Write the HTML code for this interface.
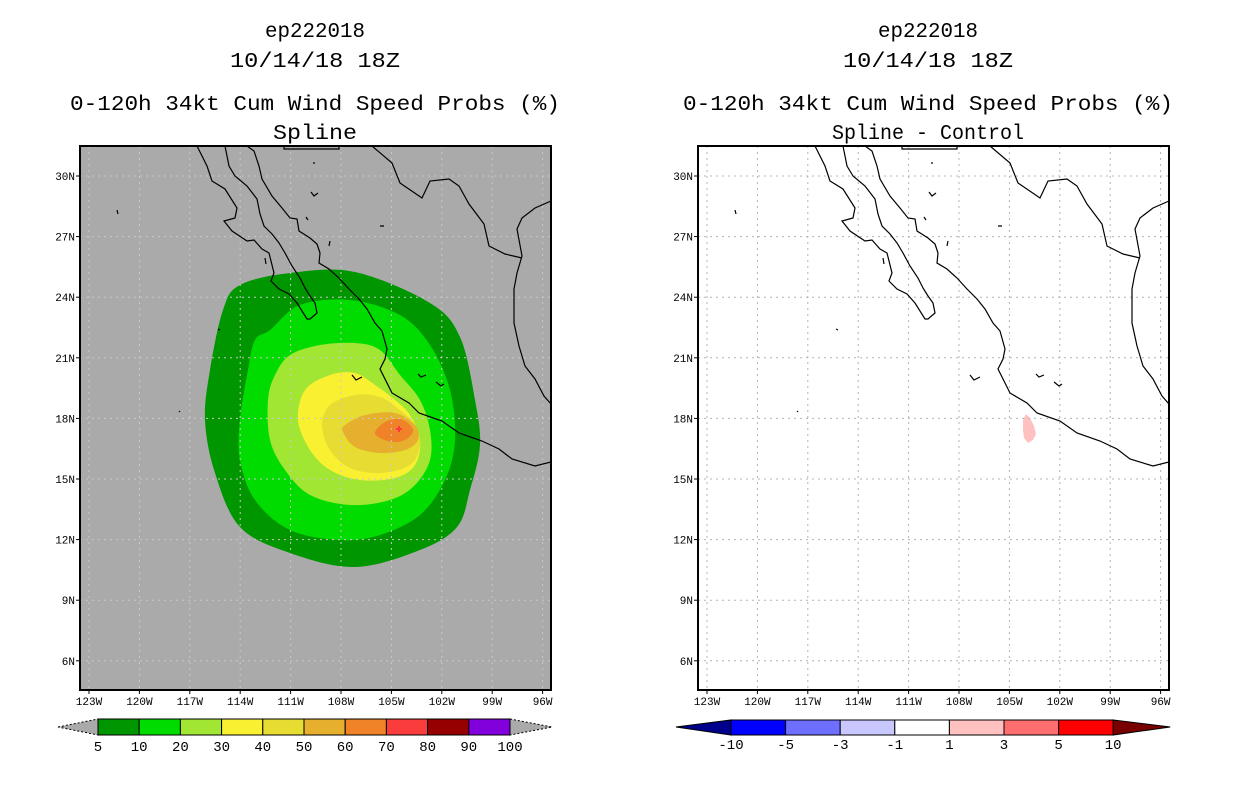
<!DOCTYPE html>
<html><head><meta charset="utf-8"><style>
body{margin:0;background:#fff;}
svg{display:block;font-family:"Liberation Mono","DejaVu Sans Mono",monospace;}
</style></head><body>
<svg id="s" width="1236" height="800" viewBox="0 0 1236 800" xmlns="http://www.w3.org/2000/svg">
<defs>
<clipPath id="clipL"><rect x="80" y="146" width="471" height="544"/></clipPath>
<clipPath id="clipR"><rect x="698" y="146" width="471" height="544"/></clipPath>
</defs>
</svg>
<script>
const lonTicks=[-123,-120,-117,-114,-111,-108,-105,-102,-99,-96];
const lonLabels=["123W","120W","117W","114W","111W","108W","105W","102W","99W","96W"];
const latTicks=[30,27,24,21,18,15,12,9,6];
const latLabels=["30N","27N","24N","21N","18N","15N","12N","9N","6N"];
const probLevels=["5","10","20","30","40","50","60","70","80","90","100"];
const probColors=["#009600","#00dc00","#a0e632","#faf032","#e6dc32","#e6af2d","#f08228","#fa3c3c","#960000","#8200dc"];
const diffLevels=["-10","-5","-3","-1","1","3","5","10"];
const diffColors=["#00008c","#0000ff","#6e6eff","#c8c8ff","#ffffff","#ffc0c0","#ff6e6e","#ff0000","#780000"];

const NS="http://www.w3.org/2000/svg";
const svg=document.getElementById('s');
function mk(tag,attrs,parent){const e=document.createElementNS(NS,tag);for(const k in attrs)e.setAttribute(k,attrs[k]);(parent||svg).appendChild(e);return e;}
const panels=[{x0:80,name:'left'},{x0:698,name:'right'}];
function lonX(p,lon){return p.x0+9+(lon+123)*16.8;}
function latY(lat){return 176+(30-lat)*20.2;}
function smooth(str){
  const p=str.trim().split(/\s+/).map(s=>s.split(',').map(Number));
  const n=p.length;let d=`M${p[0][0]},${p[0][1]}`;
  for(let i=0;i<n;i++){
    const p0=p[(i-1+n)%n],p1=p[i],p2=p[(i+1)%n],p3=p[(i+2)%n];
    const c1=[p1[0]+(p2[0]-p0[0])/6,p1[1]+(p2[1]-p0[1])/6];
    const c2=[p2[0]-(p3[0]-p1[0])/6,p2[1]-(p3[1]-p1[1])/6];
    d+=` C${c1[0].toFixed(1)},${c1[1].toFixed(1)} ${c2[0].toFixed(1)},${c2[1].toFixed(1)} ${p2[0]},${p2[1]}`;
  }
  return d+'Z';
}

const coast=[
"M117,0 L127,20 L132,35 L145,43 L157,62 L155,72 L144,75 L152,85 L167,95 L174,94 L182,103 L189,107 L194,127 L191,135 L199,143 L209,148 L217,157 L227,173 L230,173 L237,167 L235,157 L230,150 L225,142 L220,132 L212,120 L205,107 L199,97 L192,88 L184,80 L180,68 L177,53 L167,40 L155,30 L149,20 L145,0",
"M167,0 L174,5 L179,20 L182,33 L192,50 L202,62 L210,72 L217,73 L219,85 L230,92 L237,98 L240,107 L239,117 L249,123 L259,132 L269,143 L279,153 L287,163 L295,177 L302,185 L307,203 L305,213 L300,223 L305,233 L312,247 L329,257 L339,267 L362,275 L379,287 L402,295 L419,303 L432,313 L455,320 L471,316",
"M471,55 L455,62 L442,72 L437,83 L442,110 L437,127 L434,143 L434,177 L439,200 L445,220 L455,233 L464,250 L471,258",
"M292,0 L312,17 L320,37 L342,52 L350,35 L369,33 L379,40 L389,58 L404,78 L409,100 L425,108 L442,112",
"M204,0 L204,3 L259,3 L259,0",
"M272,229 L276,234 L282,231 M338,228 L341,231 L346,229 M356,236 L361,240 L364,238 M138,183 L140,184 M99,265 L100,266 M234,16 L234,18 M37,64 L38,68 M231,46 L234,50 L238,47 M226,71 L228,74 M300,80 L304,80 M250,95 L249,100 M185,112 L186,118"
];

panels.forEach(p=>{
  const L=p.name==='left';
  const g=mk('g',{});
  
  
  mk('rect',{x:p.x0,y:146,width:471,height:544,fill:L?'#aaaaaa':'#ffffff'},g);
  const inner=mk('g',{'clip-path':'url(#clip'+(L?'L':'R')+')'},g);
  if(L){
    const contours=[
     "240,285 290,273 355,272 430,303 460,337 475,400 480,445 470,490 457,527 420,550 355,567 290,553 240,527 215,473 205,420 210,370 223,310",
     "255,340 270,330 300,305 350,300 400,315 430,345 450,390 455,440 445,480 420,515 380,535 340,540 290,530 255,500 240,460 240,420 248,370",
     "275,375 290,355 320,345 355,343 380,350 400,375 420,400 430,430 430,460 415,485 390,500 350,505 310,495 285,470 270,440 268,400",
     "298,420 305,390 330,375 355,373 375,385 395,400 410,415 420,440 415,465 395,478 360,480 330,470 310,450",
     "322,425 330,405 355,395 380,397 400,410 415,425 420,445 410,465 380,473 350,468 330,450",
     "343,432 345,425 365,415 395,413 415,425 418,440 405,450 380,453 355,447",
     "375,432 385,422 400,419 410,425 413,432 405,440 393,442 380,438"
    ];
    contours.forEach((pts,i)=>{
      const c=mk('path',{d:smooth(pts),fill:probColors[i]},inner);
      
      
    });
    mk('path',{d:"M396,429 h6 M399,426 v6",stroke:probColors[7],'stroke-width':2},inner);
  } else {
    const b=mk('path',{d:"M1023,420 L1026,414 L1030,418 L1034,426 L1036,434 L1033,440 L1028,443 L1024,438 L1023,430 Z",fill:'#ffc0c0'},inner);
    
    
  }
  lonTicks.forEach(lon=>{
    const x=lonX(p,lon);
    mk('line',{x1:x,y1:146,x2:x,y2:690,stroke:L?'#c8c8c8':'#b4b4b4','stroke-dasharray':'2,4'},inner);
  });
  latTicks.forEach(lat=>{
    const y=latY(lat);
    mk('line',{x1:p.x0,y1:y,x2:p.x0+471,y2:y,stroke:L?'#c8c8c8':'#b4b4b4','stroke-dasharray':'2,4'},inner);
  });
  const cg=mk('g',{transform:'translate('+p.x0+',146)',fill:'none',stroke:'#000','stroke-width':1.2},inner);
  
  
  coast.forEach(d=>mk('path',{d:d},cg));
  mk('rect',{x:p.x0,y:146,width:471,height:544,fill:'none',stroke:'#000','stroke-width':2},g);
  lonTicks.forEach((lon,i)=>{
    const x=lonX(p,lon);
    mk('line',{x1:x,y1:690,x2:x,y2:694,stroke:'#000'},g);
    const t=mk('text',{x:x,y:705,'font-size':11,'text-anchor':'middle'},g);
    t.textContent=lonLabels[i];
    
    
  });
  latTicks.forEach((lat,i)=>{
    const y=latY(lat);
    mk('line',{x1:p.x0-4,y1:y,x2:p.x0,y2:y,stroke:'#000'},g);
    const t=mk('text',{x:p.x0-5,y:y+4,'font-size':11,'text-anchor':'end'},g);
    t.textContent=latLabels[i];
    
    
  });
  const cx=L?315:928;
  const titles=[["ep222018",30,100],["10/14/18 18Z",60,170],["0-120h 34kt Cum Wind Speed Probs (%)",103,490],[L?"Spline":"Spline - Control",132,L?84:192]];
  titles.forEach(tt=>{
    const t=mk('text',{x:cx,y:tt[1]+7,'font-size':21,'text-anchor':'middle',textLength:tt[2],lengthAdjust:'spacingAndGlyphs'},g);
    t.textContent=tt[0];
    
    
  });
});

(function(){
  const g=mk('g',{});
  
  
  const x0=98,w=41.2,y0=719,h=16;
  mk('polygon',{points:`58,727 ${x0},${y0} ${x0},${y0+h}`,fill:'#aaaaaa',stroke:'#000','stroke-dasharray':'2,2'},g);
  const xe=x0+w*probColors.length;
  mk('polygon',{points:`${xe},${y0} ${xe+42},727 ${xe},${y0+h}`,fill:'#aaaaaa',stroke:'#000','stroke-dasharray':'2,2'},g);
  probColors.forEach((c,i)=>{
    const r=mk('rect',{x:x0+i*w,y:y0,width:w,height:h,fill:c,stroke:'#000'},g);
    
    
  });
  probLevels.forEach((l,i)=>{
    const t=mk('text',{x:x0+i*w,y:751,'font-size':14,'text-anchor':'middle'},g);
    t.textContent=l;
  });
})();
(function(){
  const g=mk('g',{});
  
  
  const x0=731,w=54.6,y0=720,h=15;
  mk('polygon',{points:`676,727 ${x0},${y0} ${x0},${y0+h}`,fill:diffColors[0],stroke:'#000'},g);
  for(let i=1;i<diffColors.length-1;i++){
    const r=mk('rect',{x:x0+(i-1)*w,y:y0,width:w,height:h,fill:diffColors[i],stroke:'#000'},g);
    
    
  }
  const xe=x0+w*(diffColors.length-2);
  mk('polygon',{points:`${xe},${y0} ${xe+57},727 ${xe},${y0+h}`,fill:diffColors[diffColors.length-1],stroke:'#000'},g);
  diffLevels.forEach((l,i)=>{
    const t=mk('text',{x:x0+i*w,y:749,'font-size':14,'text-anchor':'middle'},g);
    t.textContent=l;
  });
})();
</script>
</body></html>
